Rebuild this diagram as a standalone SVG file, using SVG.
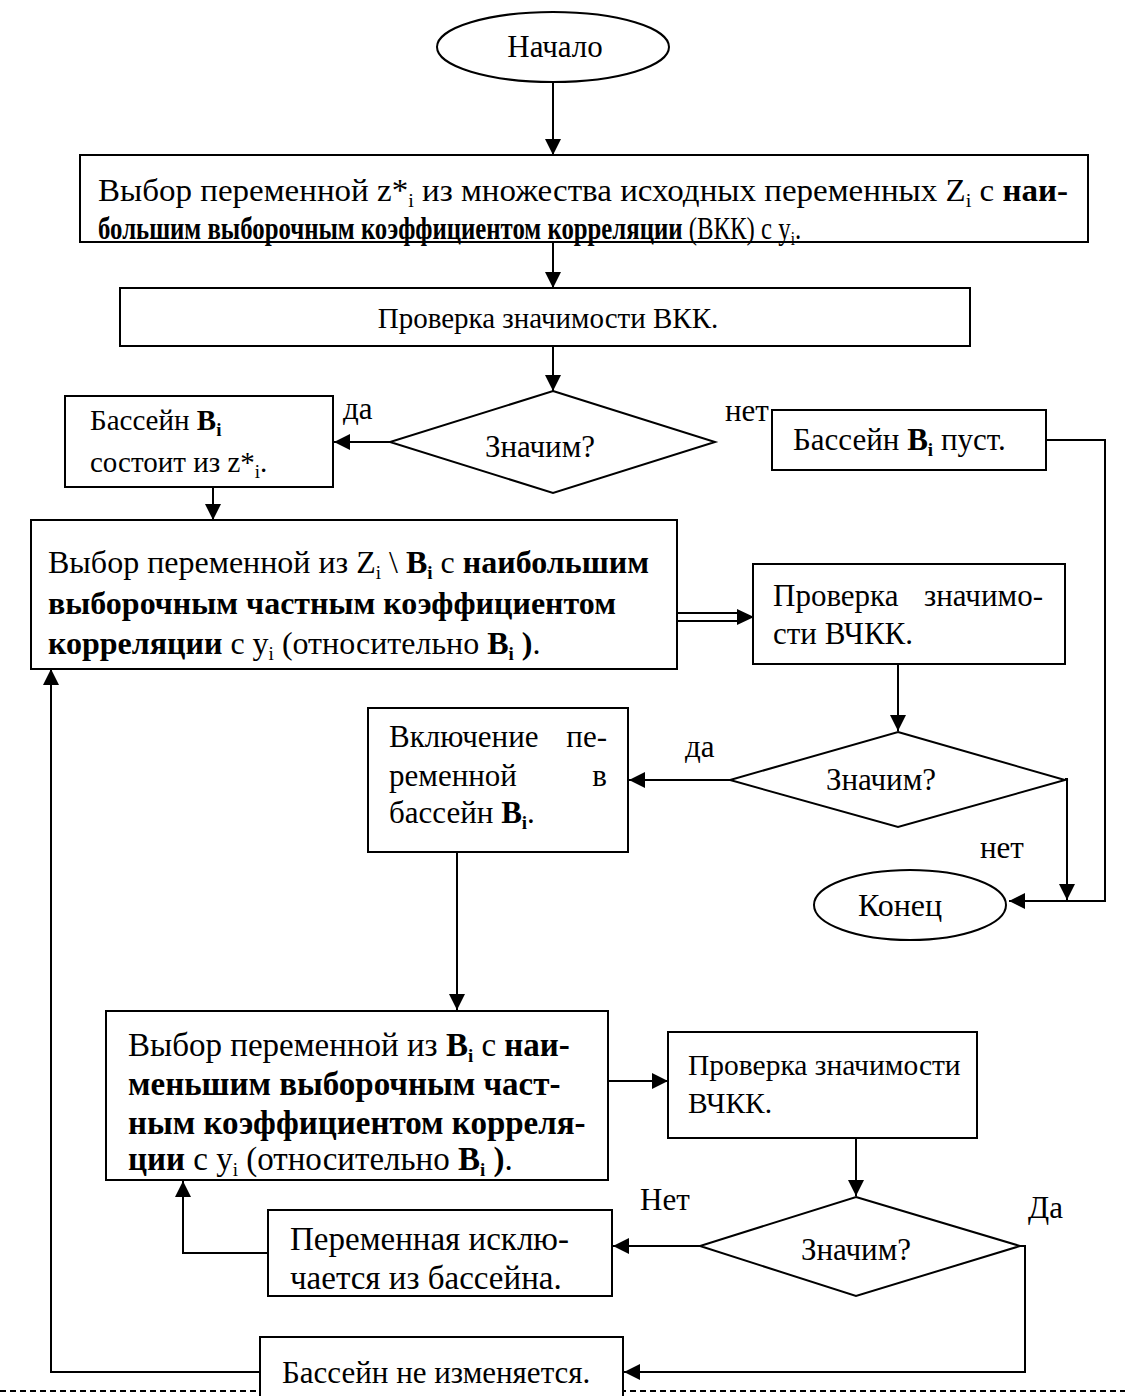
<svg xmlns="http://www.w3.org/2000/svg" width="1125" height="1396" viewBox="0 0 1125 1396">
<defs>
<marker id="ah" viewBox="0 0 10 10" refX="10" refY="5" markerWidth="16" markerHeight="16" markerUnits="userSpaceOnUse" orient="auto">
<path d="M0,0 L10,5 L0,10 z" fill="#000"/>
</marker>
<style>
text{font-family:"Liberation Serif","Times New Roman",serif;font-size:31px;fill:#000}
text.f29{font-size:29px}
text.f30{font-size:29.5px}
text.f32{font-size:32px}
text.f33{font-size:33px}
.b{font-weight:bold}
tspan.s{font-size:19px}
.box{fill:#fff;stroke:#000;stroke-width:2}
.ln{fill:none;stroke:#000;stroke-width:2}
</style>
</defs>
<line x1="0" y1="1391" x2="1125" y2="1391" stroke="#000" stroke-width="2" stroke-dasharray="6,4"/>
<g id="connectors">
<line class="ln" x1="553" y1="82" x2="553" y2="155" marker-end="url(#ah)"/>
<line class="ln" x1="553" y1="242" x2="553" y2="288" marker-end="url(#ah)"/>
<line class="ln" x1="553" y1="346" x2="553" y2="391" marker-end="url(#ah)"/>
<line class="ln" x1="390" y1="442" x2="334" y2="442" marker-end="url(#ah)"/>
<line class="ln" x1="213" y1="487" x2="213" y2="520" marker-end="url(#ah)"/>
<polyline class="ln" points="1046,440 1105,440 1105,901 1009,901" marker-end="url(#ah)"/>
<line x1="677" y1="613" x2="742" y2="613" stroke="#000" stroke-width="2"/>
<line x1="677" y1="621" x2="742" y2="621" stroke="#000" stroke-width="2"/>
<path d="M737,609 L754,617 L737,625 z" fill="#000"/>
<line class="ln" x1="898" y1="664" x2="898" y2="731" marker-end="url(#ah)"/>
<line class="ln" x1="730" y1="780" x2="629" y2="780" marker-end="url(#ah)"/>
<polyline class="ln" points="1065,779 1067,779 1067,900" marker-end="url(#ah)"/>
<line class="ln" x1="457" y1="852" x2="457" y2="1010" marker-end="url(#ah)"/>
<line class="ln" x1="608" y1="1081" x2="668" y2="1081" marker-end="url(#ah)"/>
<line class="ln" x1="856" y1="1138" x2="856" y2="1196" marker-end="url(#ah)"/>
<line class="ln" x1="700" y1="1246" x2="613" y2="1246" marker-end="url(#ah)"/>
<polyline class="ln" points="268,1253 183,1253 183,1181" marker-end="url(#ah)"/>
<polyline class="ln" points="1020,1246 1025,1246 1025,1372 624,1372" marker-end="url(#ah)"/>
<polyline class="ln" points="260,1372 51,1372 51,669" marker-end="url(#ah)"/>
<text x="343" y="419">да</text>
<text x="725" y="421">нет</text>
<text x="685" y="757">да</text>
<text x="980" y="858">нет</text>
<text x="640" y="1210">Нет</text>
<text x="1028" y="1218">Да</text>
</g>
<g id="start">
<ellipse cx="553" cy="47" rx="116" ry="35" class="box"/>
<text x="555" y="57" text-anchor="middle">Начало</text>
</g>
<g id="box1">
<rect x="80" y="155" width="1008" height="87" class="box" stroke-width="2.5"/>
<text x="98" y="201" textLength="970" lengthAdjust="spacingAndGlyphs">Выбор переменной z*<tspan class="s" dy="6">i</tspan><tspan dy="-6"> из множества исходных переменных Z</tspan><tspan class="s" dy="6">i</tspan><tspan dy="-6"> с </tspan><tspan class="b">наи-</tspan></text>
<text x="98" y="239" transform="translate(98,0) scale(0.8,1) translate(-98,0)"><tspan class="b">большим выборочным коэффициентом корреляции</tspan> (ВКК) с y<tspan class="s" dy="6">i</tspan><tspan dy="-6">.</tspan></text>
</g>
<g id="box2">
<rect x="120" y="288" width="850" height="58" class="box"/>
<text x="548" y="328" text-anchor="middle" class="f29">Проверка значимости ВКК.</text>
</g>
<g id="dec1">
<polygon points="553,391 715,442 553,493 390,442" class="box"/>
<text x="540" y="457" text-anchor="middle">Значим?</text>
</g>
<g id="box3">
<rect x="65" y="396" width="268" height="91" class="box"/>
<text x="90" y="430" class="f29">Бассейн <tspan class="b">B</tspan><tspan class="b s" dy="6">i</tspan></text>
<text x="90" y="472" class="f29">состоит из z*<tspan class="s" dy="6">i</tspan><tspan dy="-6">.</tspan></text>
</g>
<g id="box4">
<rect x="772" y="410" width="274" height="60" class="box"/>
<text x="793" y="450">Бассейн <tspan class="b">B</tspan><tspan class="b s" dy="6">i</tspan><tspan dy="-6"> пуст.</tspan></text>
</g>
<g id="box5">
<rect x="31" y="520" width="646" height="149" class="box"/>
<text x="48" y="573" class="f32">Выбор переменной из Z<tspan class="s" dy="6">i</tspan><tspan dy="-6"> \ </tspan><tspan class="b">B</tspan><tspan class="b s" dy="6">i</tspan><tspan dy="-6"> с </tspan><tspan class="b">наибольшим</tspan></text>
<text x="48" y="614" class="b f32">выборочным частным коэффициентом</text>
<text x="48" y="654" class="f32"><tspan class="b">корреляции</tspan> с y<tspan class="s" dy="6">i</tspan><tspan dy="-6"> (относительно </tspan><tspan class="b">B</tspan><tspan class="b s" dy="6">i</tspan><tspan class="b" dy="-6"> )</tspan>.</text>
</g>
<g id="box6">
<rect x="753" y="564" width="312" height="100" class="box"/>
<text x="773" y="606">Проверка</text>
<text x="1043" y="606" text-anchor="end">значимо-</text>
<text x="773" y="644">сти ВЧКК.</text>
</g>
<g id="dec2">
<polygon points="898,732 1065,780 898,827 730,780" class="box"/>
<text x="881" y="790" text-anchor="middle">Значим?</text>
</g>
<g id="box7">
<rect x="368" y="708" width="260" height="144" class="box"/>
<text x="389" y="747">Включение</text>
<text x="607" y="747" text-anchor="end">пе-</text>
<text x="389" y="786">ременной</text>
<text x="607" y="786" text-anchor="end">в</text>
<text x="389" y="823">бассейн <tspan class="b">B</tspan><tspan class="b s" dy="6">i</tspan><tspan dy="-6">.</tspan></text>
</g>
<g id="end">
<ellipse cx="910" cy="905" rx="96" ry="35" class="box"/>
<text x="900" y="916" text-anchor="middle" class="f32">Конец</text>
</g>
<g id="box8">
<rect x="106" y="1011" width="502" height="169" class="box"/>
<text x="128" y="1056" class="f33">Выбор переменной из <tspan class="b">B</tspan><tspan class="b s" dy="6">i</tspan><tspan dy="-6"> с </tspan><tspan class="b">наи-</tspan></text>
<text x="128" y="1095" class="b f33">меньшим выборочным част-</text>
<text x="128" y="1134" class="b f33">ным коэффициентом корреля-</text>
<text x="128" y="1170" class="f33"><tspan class="b">ции</tspan> с y<tspan class="s" dy="6">i</tspan><tspan dy="-6"> (относительно </tspan><tspan class="b">B</tspan><tspan class="b s" dy="6">i</tspan><tspan class="b" dy="-6"> )</tspan>.</text>
</g>
<g id="box9">
<rect x="668" y="1032" width="309" height="106" class="box"/>
<text x="688" y="1075" class="f30">Проверка значимости</text>
<text x="688" y="1113" class="f30">ВЧКК.</text>
</g>
<g id="dec3">
<polygon points="856,1197 1020,1246 856,1296 700,1246" class="box"/>
<text x="856" y="1260" text-anchor="middle">Значим?</text>
</g>
<g id="box10">
<rect x="268" y="1210" width="344" height="86" class="box"/>
<text x="290" y="1250" class="f33">Переменная исклю-</text>
<text x="290" y="1289" class="f33">чается из бассейна.</text>
</g>
<g id="box11">
<rect x="260" y="1337" width="363" height="80" class="box"/>
<text x="282" y="1383">Бассейн не изменяется.</text>
</g>
</svg>
